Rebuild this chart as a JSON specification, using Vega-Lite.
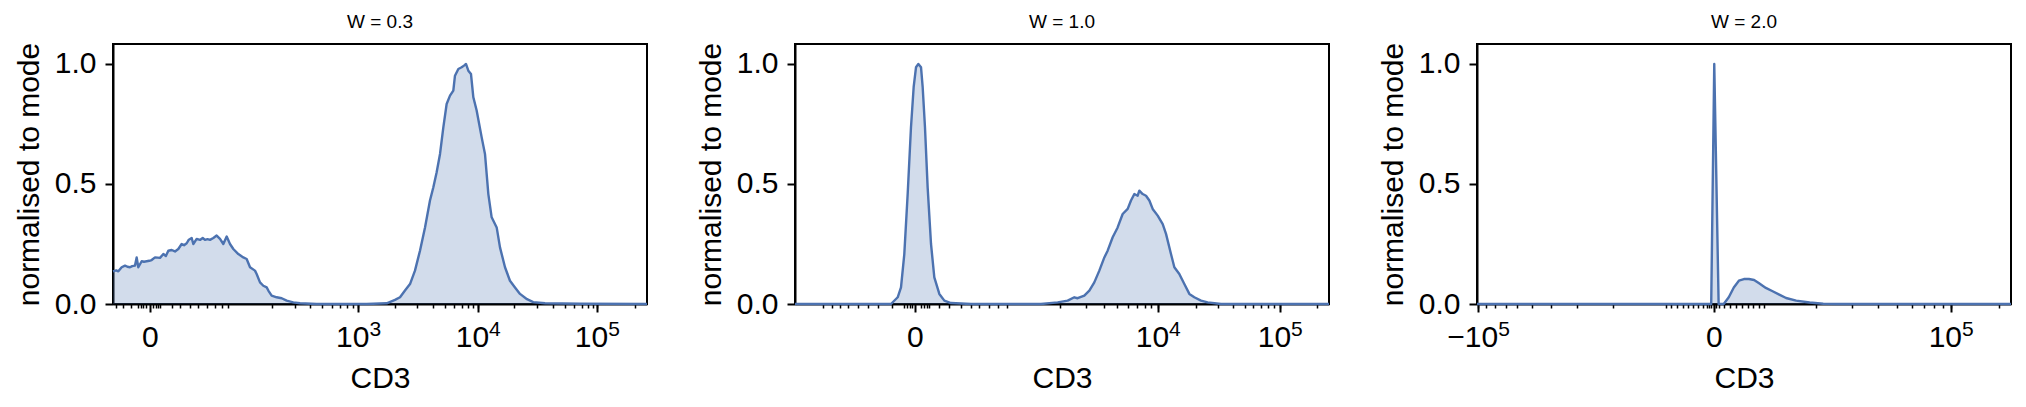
{
  "$schema": "https://vega.github.io/schema/vega-lite/v6.json",
  "background": "white",
  "padding": {"left": 13, "top": 12, "right": 5, "bottom": 5},
  "bounds": "flush",
  "spacing": 148,
  "datasets": {
    "w03": [
      {"CD3": 0, "normalised": 0.136}, {"CD3": 0.006, "normalised": 0.14}, {"CD3": 0.010, "normalised": 0.136},
      {"CD3": 0.0162, "normalised": 0.153}, {"CD3": 0.0225, "normalised": 0.16}, {"CD3": 0.027, "normalised": 0.155},
      {"CD3": 0.0318, "normalised": 0.153}, {"CD3": 0.036, "normalised": 0.158}, {"CD3": 0.0412, "normalised": 0.16},
      {"CD3": 0.0443, "normalised": 0.194}, {"CD3": 0.0474, "normalised": 0.153}, {"CD3": 0.0537, "normalised": 0.178},
      {"CD3": 0.058, "normalised": 0.176}, {"CD3": 0.063, "normalised": 0.178}, {"CD3": 0.068, "normalised": 0.18},
      {"CD3": 0.0724, "normalised": 0.183}, {"CD3": 0.0787, "normalised": 0.194}, {"CD3": 0.088, "normalised": 0.192},
      {"CD3": 0.0943, "normalised": 0.208}, {"CD3": 0.099, "normalised": 0.2}, {"CD3": 0.1036, "normalised": 0.222},
      {"CD3": 0.1099, "normalised": 0.225}, {"CD3": 0.1161, "normalised": 0.219}, {"CD3": 0.1223, "normalised": 0.229},
      {"CD3": 0.1286, "normalised": 0.25}, {"CD3": 0.133, "normalised": 0.245}, {"CD3": 0.138, "normalised": 0.253},
      {"CD3": 0.142, "normalised": 0.268}, {"CD3": 0.1473, "normalised": 0.275}, {"CD3": 0.1504, "normalised": 0.25},
      {"CD3": 0.1567, "normalised": 0.271}, {"CD3": 0.1629, "normalised": 0.267}, {"CD3": 0.168, "normalised": 0.275},
      {"CD3": 0.1723, "normalised": 0.267}, {"CD3": 0.177, "normalised": 0.27}, {"CD3": 0.1816, "normalised": 0.267},
      {"CD3": 0.1879, "normalised": 0.275}, {"CD3": 0.1941, "normalised": 0.285}, {"CD3": 0.2004, "normalised": 0.271},
      {"CD3": 0.2066, "normalised": 0.25}, {"CD3": 0.2129, "normalised": 0.281}, {"CD3": 0.2191, "normalised": 0.25},
      {"CD3": 0.2253, "normalised": 0.229}, {"CD3": 0.2347, "normalised": 0.208}, {"CD3": 0.2441, "normalised": 0.194},
      {"CD3": 0.2503, "normalised": 0.1875}, {"CD3": 0.2566, "normalised": 0.153}, {"CD3": 0.2659, "normalised": 0.139},
      {"CD3": 0.269, "normalised": 0.125}, {"CD3": 0.2753, "normalised": 0.09}, {"CD3": 0.2815, "normalised": 0.076},
      {"CD3": 0.2878, "normalised": 0.069}, {"CD3": 0.2909, "normalised": 0.056}, {"CD3": 0.2971, "normalised": 0.035},
      {"CD3": 0.3065, "normalised": 0.028}, {"CD3": 0.3159, "normalised": 0.024}, {"CD3": 0.3252, "normalised": 0.014},
      {"CD3": 0.3377, "normalised": 0.007}, {"CD3": 0.3502, "normalised": 0.003}, {"CD3": 0.3814, "normalised": 0},
      {"CD3": 0.475, "normalised": 0}, {"CD3": 0.5125, "normalised": 0.003}, {"CD3": 0.5281, "normalised": 0.017},
      {"CD3": 0.5375, "normalised": 0.028}, {"CD3": 0.5468, "normalised": 0.056}, {"CD3": 0.5562, "normalised": 0.083},
      {"CD3": 0.5655, "normalised": 0.139}, {"CD3": 0.5749, "normalised": 0.222}, {"CD3": 0.5843, "normalised": 0.319},
      {"CD3": 0.5936, "normalised": 0.431}, {"CD3": 0.5999, "normalised": 0.486}, {"CD3": 0.6061, "normalised": 0.549},
      {"CD3": 0.6124, "normalised": 0.625}, {"CD3": 0.6186, "normalised": 0.736}, {"CD3": 0.6248, "normalised": 0.833},
      {"CD3": 0.6311, "normalised": 0.868}, {"CD3": 0.6373, "normalised": 0.889}, {"CD3": 0.6404, "normalised": 0.951},
      {"CD3": 0.6467, "normalised": 0.979}, {"CD3": 0.6529, "normalised": 0.986}, {"CD3": 0.6573, "normalised": 0.993},
      {"CD3": 0.661, "normalised": 1.0}, {"CD3": 0.6654, "normalised": 0.972}, {"CD3": 0.6704, "normalised": 0.958},
      {"CD3": 0.6748, "normalised": 0.861}, {"CD3": 0.681, "normalised": 0.806}, {"CD3": 0.6904, "normalised": 0.694},
      {"CD3": 0.6966, "normalised": 0.625}, {"CD3": 0.7029, "normalised": 0.458}, {"CD3": 0.7091, "normalised": 0.361},
      {"CD3": 0.7185, "normalised": 0.319}, {"CD3": 0.7247, "normalised": 0.236}, {"CD3": 0.7341, "normalised": 0.153},
      {"CD3": 0.7434, "normalised": 0.097}, {"CD3": 0.7528, "normalised": 0.069}, {"CD3": 0.7622, "normalised": 0.042},
      {"CD3": 0.7753, "normalised": 0.02}, {"CD3": 0.787, "normalised": 0.008}, {"CD3": 0.809, "normalised": 0.003},
      {"CD3": 0.874, "normalised": 0.001}, {"CD3": 1.0, "normalised": 0}
    ],
    "w10": [
      {"CD3": 0, "normalised": 0}, {"CD3": 0.1798, "normalised": 0}, {"CD3": 0.1923, "normalised": 0.028},
      {"CD3": 0.1985, "normalised": 0.069}, {"CD3": 0.2047, "normalised": 0.208}, {"CD3": 0.211, "normalised": 0.458},
      {"CD3": 0.2172, "normalised": 0.736}, {"CD3": 0.2222, "normalised": 0.903}, {"CD3": 0.2266, "normalised": 0.986},
      {"CD3": 0.231, "normalised": 1.0}, {"CD3": 0.236, "normalised": 0.986}, {"CD3": 0.2391, "normalised": 0.903},
      {"CD3": 0.2434, "normalised": 0.736}, {"CD3": 0.2484, "normalised": 0.486}, {"CD3": 0.2547, "normalised": 0.25},
      {"CD3": 0.2609, "normalised": 0.111}, {"CD3": 0.2703, "normalised": 0.042}, {"CD3": 0.2797, "normalised": 0.014},
      {"CD3": 0.2921, "normalised": 0.004}, {"CD3": 0.3296, "normalised": 0}, {"CD3": 0.4607, "normalised": 0},
      {"CD3": 0.4919, "normalised": 0.007}, {"CD3": 0.5106, "normalised": 0.014}, {"CD3": 0.5231, "normalised": 0.028},
      {"CD3": 0.5293, "normalised": 0.024}, {"CD3": 0.5418, "normalised": 0.035}, {"CD3": 0.5512, "normalised": 0.056},
      {"CD3": 0.5605, "normalised": 0.09}, {"CD3": 0.5699, "normalised": 0.139}, {"CD3": 0.5793, "normalised": 0.194},
      {"CD3": 0.5855, "normalised": 0.222}, {"CD3": 0.5949, "normalised": 0.278}, {"CD3": 0.6042, "normalised": 0.319},
      {"CD3": 0.6136, "normalised": 0.375}, {"CD3": 0.623, "normalised": 0.396}, {"CD3": 0.6292, "normalised": 0.431},
      {"CD3": 0.6355, "normalised": 0.458}, {"CD3": 0.6417, "normalised": 0.451}, {"CD3": 0.6448, "normalised": 0.472},
      {"CD3": 0.6511, "normalised": 0.458}, {"CD3": 0.6573, "normalised": 0.451}, {"CD3": 0.6636, "normalised": 0.431},
      {"CD3": 0.6698, "normalised": 0.396}, {"CD3": 0.6792, "normalised": 0.368}, {"CD3": 0.6886, "normalised": 0.333},
      {"CD3": 0.6948, "normalised": 0.292}, {"CD3": 0.7041, "normalised": 0.208}, {"CD3": 0.7104, "normalised": 0.153},
      {"CD3": 0.7197, "normalised": 0.125}, {"CD3": 0.7291, "normalised": 0.083}, {"CD3": 0.7385, "normalised": 0.042},
      {"CD3": 0.7478, "normalised": 0.028}, {"CD3": 0.7603, "normalised": 0.014}, {"CD3": 0.7728, "normalised": 0.007},
      {"CD3": 0.7978, "normalised": 0}, {"CD3": 1.0, "normalised": 0}
    ],
    "w20": [
      {"CD3": 0, "normalised": 0}, {"CD3": 0.4386, "normalised": 0}, {"CD3": 0.4443, "normalised": 1.0},
      {"CD3": 0.4525, "normalised": 0}, {"CD3": 0.462, "normalised": 0}, {"CD3": 0.4715, "normalised": 0.028},
      {"CD3": 0.4809, "normalised": 0.069}, {"CD3": 0.4904, "normalised": 0.097}, {"CD3": 0.4999, "normalised": 0.104},
      {"CD3": 0.5093, "normalised": 0.104}, {"CD3": 0.5189, "normalised": 0.1}, {"CD3": 0.5283, "normalised": 0.086},
      {"CD3": 0.5409, "normalised": 0.067}, {"CD3": 0.5536, "normalised": 0.053}, {"CD3": 0.5661, "normalised": 0.039},
      {"CD3": 0.5788, "normalised": 0.025}, {"CD3": 0.5977, "normalised": 0.014}, {"CD3": 0.623, "normalised": 0.006},
      {"CD3": 0.6483, "normalised": 0.001}, {"CD3": 0.6736, "normalised": 0}, {"CD3": 1.0, "normalised": 0}
    ]
  },
  "config": {
    "font": "Liberation Sans",
    "view": {"stroke": "black", "strokeWidth": 2},
    "axis": {
      "domainColor": "black", "domainWidth": 2, "tickColor": "black", "grid": false,
      "labelColor": "black", "titleColor": "black", "labelFontSize": 30, "titleFontSize": 30,
      "titleFontWeight": "normal", "labelPadding": 9, "labelFlush": false, "labelOverlap": false, "labelBound": false
    },
    "axisY": {"titlePadding": 10, "tickSize": 8, "tickWidth": 2},
    "title": {"fontSize": 19, "fontWeight": "normal", "color": "black", "offset": 10}
  },
  "hconcat": [
    {
      "data": {"name": "w03"},
      "title": "W = 0.3",
      "width": 534, "height": 260,
      "resolve": {"axis": {"x": "independent"}},
      "layer": [
        {
          "mark": {"type": "area", "color": "#4c72b0", "opacity": 0.25},
          "encoding": {
            "x": {"field": "CD3", "type": "quantitative", "scale": {"domain": [0, 1], "nice": false, "zero": false},
              "axis": {"title": "CD3", "orient": "bottom", "titlePadding": 11, "labelPadding": 10, "tickSize": 8, "tickWidth": 2,
                "values": [0.0693, 0.4588, 0.683, 0.906],
                "labelExpr": "datum.value === 0.0693 ? '0' : '10'",
                "labelAlign": "right",
                "labelOffset": {"condition": {"test": "datum.value === 0.0693", "value": 8.3}, "value": 10.9}}},
            "y": {"field": "normalised", "type": "quantitative", "scale": {"domain": [0, 1.083], "nice": false},
              "axis": {"title": "normalised to mode", "values": [0, 0.5, 1], "format": ".1f"}}
          }
        },
        {
          "mark": {"type": "line", "color": "#4c72b0", "strokeWidth": 2.4, "strokeJoin": "round"},
          "encoding": {
            "x": {"field": "CD3", "type": "quantitative",
              "axis": {"title": null, "orient": "bottom", "domain": false, "tickSize": 4, "tickWidth": 1.5,
                "labelPadding": 10, "labelFontSize": 21, "labelAlign": "left", "labelOffset": 10.9,
                "values": [0.0056,0.0193,0.0332,0.0468,0.0515,0.0562,0.0609,0.0749,0.0796,0.0843,0.088,0.1099,0.1255,0.1442,0.1598,0.1755,0.191,0.2036,0.216,0.2983,0.3408,0.3689,0.3908,0.4096,0.4251,0.4388,0.45,0.4588,0.528,0.57,0.6,0.6217,0.6386,0.6536,0.6654,0.6747,0.683,0.7515,0.7934,0.8234,0.8464,0.8633,0.8777,0.8889,0.8983,0.906,0.977],
                "labelExpr": "datum.value === 0.4588 ? '3' : datum.value === 0.683 ? '4' : datum.value === 0.906 ? '5' : ''"}},
            "y": {"field": "normalised", "type": "quantitative"}
          }
        }
      ]
    },
    {
      "data": {"name": "w10"},
      "title": "W = 1.0",
      "width": 534, "height": 260,
      "resolve": {"axis": {"x": "independent"}},
      "layer": [
        {
          "mark": {"type": "area", "color": "#4c72b0", "opacity": 0.25},
          "encoding": {
            "x": {"field": "CD3", "type": "quantitative", "scale": {"domain": [0, 1], "nice": false, "zero": false},
              "axis": {"title": "CD3", "orient": "bottom", "titlePadding": 11, "labelPadding": 10, "tickSize": 8, "tickWidth": 2,
                "values": [0.2247, 0.6792, 0.9077],
                "labelExpr": "datum.value === 0.2247 ? '0' : '10'",
                "labelAlign": "right",
                "labelOffset": {"condition": {"test": "datum.value === 0.2247", "value": 8.3}, "value": 10.9}}},
            "y": {"field": "normalised", "type": "quantitative", "scale": {"domain": [0, 1.083], "nice": false},
              "axis": {"title": "normalised to mode", "values": [0, 0.5, 1], "format": ".1f"}}
          }
        },
        {
          "mark": {"type": "line", "color": "#4c72b0", "strokeWidth": 2.4, "strokeJoin": "round"},
          "encoding": {
            "x": {"field": "CD3", "type": "quantitative",
              "axis": {"title": null, "orient": "bottom", "domain": false, "tickSize": 4, "tickWidth": 1.5,
                "labelPadding": 10, "labelFontSize": 21, "labelAlign": "left", "labelOffset": 10.9,
                "values": [0.053,0.0687,0.0843,0.0998,0.1185,0.1373,0.156,0.1811,0.2047,0.2097,0.2154,0.2191,0.236,0.2416,0.2463,0.2509,0.2702,0.289,0.3109,0.3296,0.3451,0.3639,0.3807,0.397,0.4968,0.5449,0.5792,0.603,0.623,0.6404,0.6554,0.6667,0.6792,0.7517,0.7919,0.8206,0.8427,0.8569,0.8723,0.8856,0.8972,0.9077,0.9775],
                "labelExpr": "datum.value === 0.6792 ? '4' : datum.value === 0.9077 ? '5' : ''"}},
            "y": {"field": "normalised", "type": "quantitative"}
          }
        }
      ]
    },
    {
      "data": {"name": "w20"},
      "title": "W = 2.0",
      "width": 534, "height": 260,
      "resolve": {"axis": {"x": "independent"}},
      "layer": [
        {
          "mark": {"type": "area", "color": "#4c72b0", "opacity": 0.25},
          "encoding": {
            "x": {"field": "CD3", "type": "quantitative", "scale": {"domain": [0, 1], "nice": false, "zero": false},
              "axis": {"title": "CD3", "orient": "bottom", "titlePadding": 11, "labelPadding": 10, "tickSize": 8, "tickWidth": 2,
                "values": [0.002, 0.4434, 0.887],
                "labelExpr": "datum.value === 0.002 ? '−10' : datum.value === 0.4434 ? '0' : '10'",
                "labelAlign": "right",
                "labelOffset": {"condition": [{"test": "datum.value === 0.002", "value": 19.6}, {"test": "datum.value === 0.4434", "value": 8.3}], "value": 10.9}}},
            "y": {"field": "normalised", "type": "quantitative", "scale": {"domain": [0, 1.083], "nice": false},
              "axis": {"title": "normalised to mode", "values": [0, 0.5, 1], "format": ".1f"}}
          }
        },
        {
          "mark": {"type": "line", "color": "#4c72b0", "strokeWidth": 2.4, "strokeJoin": "round"},
          "encoding": {
            "x": {"field": "CD3", "type": "quantitative",
              "axis": {"title": null, "orient": "bottom", "domain": false, "tickSize": 4, "tickWidth": 1.5,
                "labelPadding": 10, "labelFontSize": 21, "labelAlign": "left",
                "labelOffset": {"condition": {"test": "datum.value === 0.002", "value": 19.6}, "value": 10.9},
                "values": [0.002,0.0172,0.0346,0.0534,0.0753,0.1034,0.139,0.1869,0.2543,0.353,0.3637,0.3742,0.3854,0.3948,0.4041,0.4135,0.4228,0.4303,0.4345,0.4391,0.4434,0.4485,0.4532,0.4625,0.4738,0.4854,0.4959,0.5071,0.5165,0.5272,0.5371,0.6352,0.7026,0.7506,0.7869,0.8142,0.8367,0.8567,0.8723,0.887,0.977],
                "labelExpr": "datum.value === 0.002 ? '5' : datum.value === 0.887 ? '5' : ''"}},
            "y": {"field": "normalised", "type": "quantitative"}
          }
        }
      ]
    }
  ]
}
